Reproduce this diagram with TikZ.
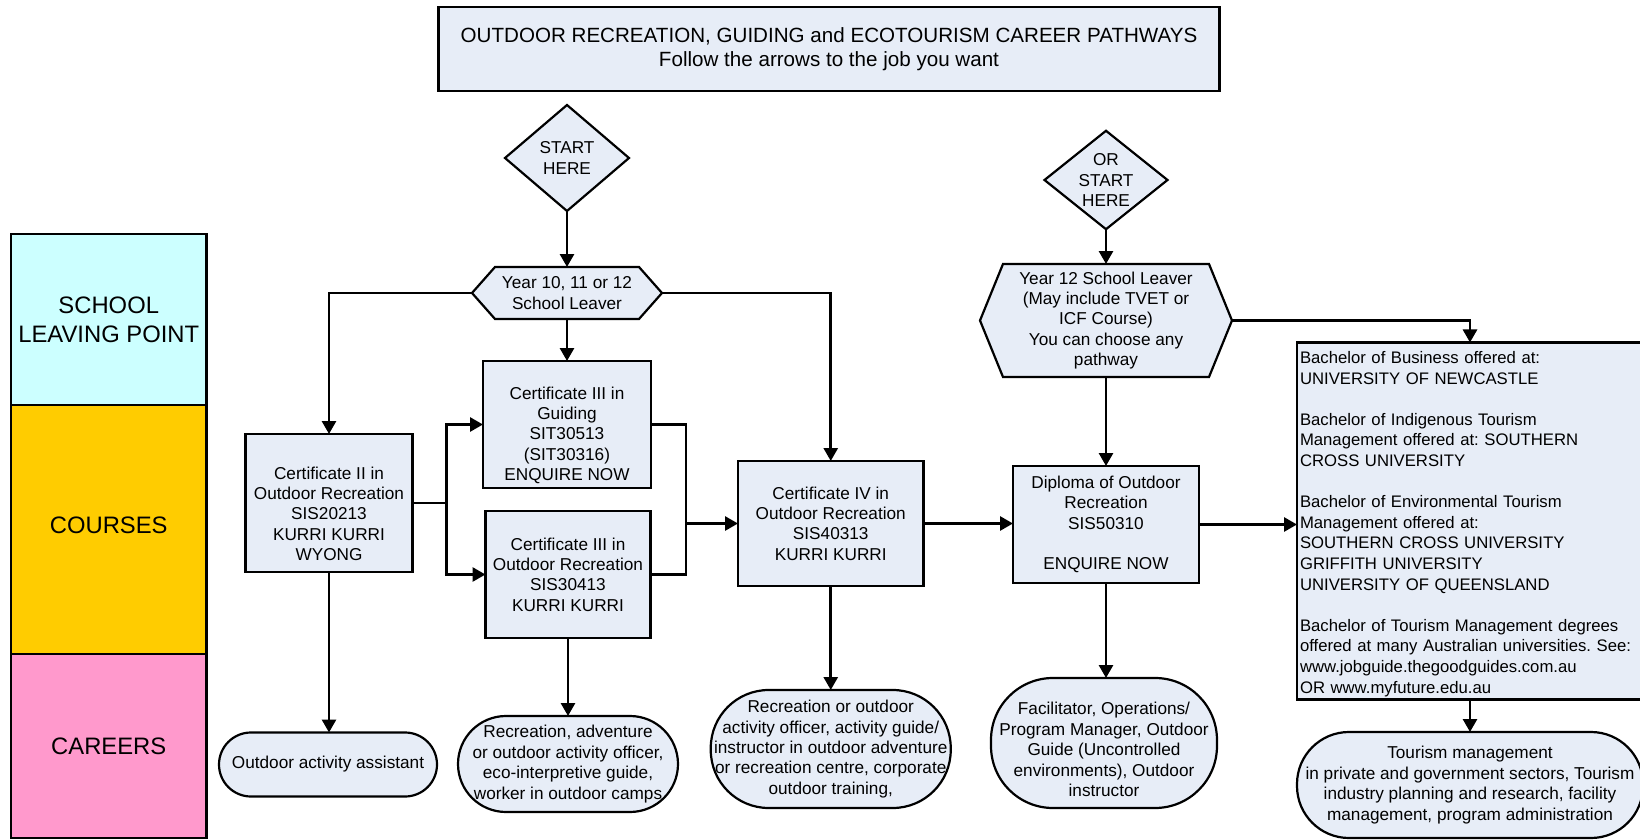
\documentclass[tikz,border=0pt]{standalone}
\usepackage{fontspec}
\setmainfont{Liberation Sans}
\frenchspacing
\usetikzlibrary{arrows.meta,positioning,calc,shapes.geometric}
\definecolor{boxblue}{RGB}{231,237,247}
\definecolor{bandcyan}{RGB}{204,255,255}
\definecolor{bandgold}{RGB}{255,204,0}
\definecolor{bandpink}{RGB}{255,153,204}
\newcommand{\boxfont}{\fontsize{8.6}{10.2}\selectfont}
\newcommand{\listfont}{\fontsize{8.35}{10.3}\selectfont}
\newcommand{\bandfont}{\fontsize{11.9}{14.6}\selectfont}
\newcommand{\headfont}{\fontsize{10.3}{12.2}\selectfont}
\tikzset{
  band/.style={
    draw=black,
    line width=1.1pt,
    minimum width=97.75pt,
    inner sep=0pt,
    outer sep=0pt,
    align=center,
    font=\bandfont
  },
  course/.style={
    draw=black,
    line width=1.1pt,
    fill=boxblue,
    inner sep=1.5pt,
    outer sep=0pt,
    align=center,
    font=\boxfont
  },
  career/.style={course, rounded corners=#1},
  decision/.style={diamond, aspect=1.2, draw=black, line width=1.1pt, fill=boxblue,
    inner sep=0pt, outer sep=0pt, align=center, font=\boxfont},
  hexline/.style={draw=black, line width=1.1pt, fill=boxblue, line join=miter},
  hextext/.style={inner sep=0pt, outer sep=0pt, align=center, font=\boxfont},
  link/.style={line width=1.4pt, -{Triangle[length=6.5pt, width=7pt]}},
  wire/.style={line width=1.4pt}
}
\newcommand{\hexnode}[7]{%
  \draw[hexline] (#2-#4,#3) -- (#2-#4+#6,#3-#5) -- (#2+#4-#6,#3-#5) -- (#2+#4,#3)
    -- (#2+#4-#6,#3+#5) -- (#2-#4+#6,#3+#5) -- cycle;
  \node[hextext, minimum width=#4pt, minimum height=#5pt] (#1) at (#2,#3) {#7};}

\begin{document}
\begin{tikzpicture}[x=0.5pt, y=-0.5pt]
  \useasboundingbox (0,0) rectangle (1640,840);
  \node[band, fill=bandcyan, minimum height=85.5pt] (school) at (108.75,319.5) {SCHOOL\\LEAVING POINT};
  \node[band, fill=bandgold, minimum height=124.5pt] (courses) at (108.75,529.5) {\raisebox{4.6pt}{COURSES}};
  \node[band, fill=bandpink, minimum height=92pt] (careers) at (108.75,746) {CAREERS};

  \node[course, minimum width=390.5pt, minimum height=42pt, font=\headfont] (title) at (829,49)
    {OUTDOOR RECREATION, GUIDING and ECOTOURISM CAREER PATHWAYS\\Follow the arrows to the job you want};

  \node[decision, minimum width=62pt, minimum height=53pt] (start) at (567,158) {START\\HERE};
  \hexnode{leaver}{567}{293}{95}{26}{23}{Year 10, 11 or 12\\School Leaver}
  \node[course, minimum width=83.5pt, minimum height=69pt] (cert2) at (329,503)
    {\rule{0pt}{17pt}Certificate II in\\Outdoor Recreation\\SIS20213\\KURRI KURRI\\WYONG};
  \node[course, minimum width=84pt, minimum height=63.5pt] (cert3g) at (567,424.5)
    {\rule{0pt}{17pt}Certificate III in\\Guiding\\SIT30513\\(SIT30316)\\ENQUIRE NOW};
  \node[course, minimum width=82.5pt, minimum height=63.5pt] (cert3r) at (568,574.5)
    {Certificate III in\\Outdoor Recreation\\SIS30413\\KURRI KURRI};
  \node[course, minimum width=92.75pt, minimum height=62.5pt] (cert4) at (830.75,523.5)
    {Certificate IV in\\Outdoor Recreation\\SIS40313\\KURRI KURRI};

  \node[decision, minimum width=61.5pt, minimum height=49pt] (orstart) at (1106,180) {OR\\START\\HERE};
  \hexnode{leaver2}{1106}{320.5}{126}{56.5}{23}{Year 12 School Leaver\\(May include TVET or\\ICF Course)\\You can choose any\\pathway}
  \node[course, minimum width=93pt, minimum height=58.5pt] (diploma) at (1106,524.5)
    {Diploma of Outdoor\\Recreation\\SIS50310\\[10.2pt]ENQUIRE NOW};
  \node[course, text width=178.5pt, minimum height=176pt, align=left, font=\listfont] (bachelor) at (1478.5,521)
    {\rule{0pt}{9pt}Bachelor of Business offered at:\\UNIVERSITY OF NEWCASTLE\\[10.3pt]
     Bachelor of Indigenous Tourism\\Management offered at: SOUTHERN\\CROSS UNIVERSITY\\[10.3pt]
     Bachelor of Environmental Tourism\\Management offered at:\\SOUTHERN CROSS UNIVERSITY\\GRIFFITH UNIVERSITY\\UNIVERSITY OF QUEENSLAND\\[10.3pt]
     Bachelor of Tourism Management degrees\\offered at many Australian universities. See:\\www.jobguide.thegoodguides.com.au\\OR www.myfuture.edu.au};

  \node[career=16pt, minimum width=109pt, minimum height=32pt] (jobassist) at (328,764.5) {Outdoor activity assistant};
  \node[career=24pt, minimum width=110pt, minimum height=48pt] (jobguide) at (568,764)
    {Recreation, adventure\\or outdoor activity officer,\\eco-interpretive guide,\\worker in outdoor camps};
  \node[career=29pt, minimum width=120pt, minimum height=59pt] (jobofficer) at (830.75,749)
    {Recreation or outdoor\\activity officer, activity guide/\\instructor in outdoor adventure\\or recreation centre, corporate\\outdoor training,};
  \node[career=31pt, minimum width=113pt, minimum height=65pt] (jobfacil) at (1104,743)
    {\rule{0pt}{12.8pt}Facilitator, Operations/\\Program Manager, Outdoor\\Guide (Uncontrolled\\environments), Outdoor\\instructor};
  \node[career=26pt, minimum width=173pt, minimum height=53pt] (jobtourism) at (1470,785)
    {Tourism management\\in private and government sectors, Tourism\\industry planning and research, facility\\management, program administration};

  \draw[link] (start.south) -- (leaver.north);
  \draw[link] (leaver.west) -| (cert2.north);
  \draw[link] (leaver.south) -- (cert3g.north);
  \draw[link] (leaver.east) -| (cert4.north);
  \coordinate (fork) at ([xshift=17pt]cert2.east);
  \draw[wire] (cert2.east) -- (fork);
  \draw[link] (fork) |- (cert3g.west);
  \draw[link] (fork) |- (cert3r.west);
  \path (cert3g.east) ++(35,0) coordinate (bend);
  \coordinate (merge) at (bend |- cert4.west);
  \draw[wire] (cert3g.east) -| (merge) |- (cert3r.east);
  \draw[link] (merge) -- (cert4.west);
  \draw[link] (cert2.south) -- (cert2.south |- jobassist.north);
  \draw[link] (cert3r.south) -- (cert3r.south |- jobguide.north);
  \draw[link] (cert4.south) -- (cert4.south |- jobofficer.north);
  \draw[link] (cert4.east) -- (cert4.east -| diploma.west);
  \draw[link] (orstart.south) -- (leaver2.north);
  \draw[link] (leaver2.south) -- (diploma.north);
  \draw[link] (leaver2.east) -| (jobtourism.north |- bachelor.north);
  \draw[link] (diploma.east) -- (diploma.east -| bachelor.west);
  \draw[link] (diploma.south) -- (diploma.south |- jobfacil.north);
  \draw[link] (jobtourism.north |- bachelor.south) -- (jobtourism.north);
\end{tikzpicture}
\end{document}
